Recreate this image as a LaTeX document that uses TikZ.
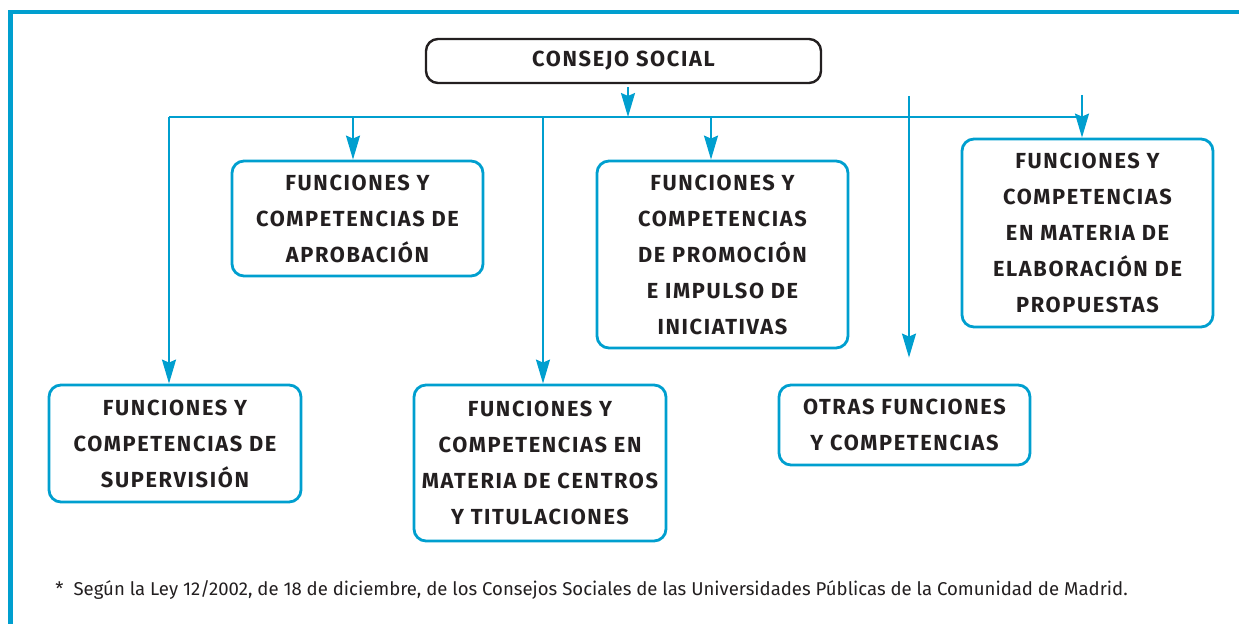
\documentclass[tikz,border=0pt]{standalone}
\usepackage{fontspec}
\setmainfont{Fira Sans}
\newfontfamily\cajafont[LetterSpace=7.5]{Fira Sans}
\usetikzlibrary{arrows.meta,calc}

\definecolor{azul}{RGB}{0,159,207}
\definecolor{tinta}{RGB}{35,31,32}

\tikzset{
    caja/.style={draw=azul, line width=1.4pt, rounded corners=6pt, align=center,
        inner sep=0pt, text=tinta, font=\cajafont\bfseries\fontsize{10.9}{18}\selectfont},
    linea/.style={draw=azul, line width=1pt},
    flecha/.style={linea, -{Stealth[length=12pt,width=7pt,inset=1.5pt]}},
}

\begin{document}
\begin{tikzpicture}[x=0.5pt,y=-0.5pt]
        % Fijamos el tamaño de la figura
        \useasboundingbox (0,0) rectangle (1239,624);
        % Marco azul arriba y a la izquierda
        \draw[azul, line width=2.4pt] (10.5,624) -- (10.5,12) -- (1239,12);
        % Caja del consejo
        \node[caja, draw=tinta, line width=1.2pt, minimum width=197.5pt, minimum height=22pt] (consejo) at (623.5,61) {CONSEJO SOCIAL};
        % Cajas de funciones
        \node[caja, minimum width=125.5pt, minimum height=57.5pt] (aprobacion) at (357.5,218.5) {FUNCIONES Y\\COMPETENCIAS DE\\APROBACIÓN};
        \node[caja, minimum width=125.5pt, minimum height=93.5pt] (promocion) at (722.5,254.5) {FUNCIONES Y\\COMPETENCIAS\\DE PROMOCIÓN\\E IMPULSO DE\\INICIATIVAS};
        \node[caja, minimum width=125.5pt, minimum height=94pt] (elaboracion) at (1087.5,233) {FUNCIONES Y\\COMPETENCIAS\\EN MATERIA DE\\ELABORACIÓN DE\\PROPUESTAS};
        \node[caja, minimum width=126pt, minimum height=58.5pt] (supervision) at (175,443.5) {FUNCIONES Y\\COMPETENCIAS DE\\SUPERVISIÓN};
        \node[caja, minimum width=126pt, minimum height=78pt] (centros) at (540,463) {FUNCIONES Y\\COMPETENCIAS EN\\MATERIA DE CENTROS\\Y TITULACIONES};
        \node[caja, minimum width=125.5pt, minimum height=40pt] (otras) at (904.5,425) {OTRAS FUNCIONES\\Y COMPETENCIAS};
        % Puntos de la línea de reparto
        \coordinate (bus) at (628,117);
        \coordinate (b1) at (169,117);
        \coordinate (b2) at (353,117);
        \coordinate (b3) at (543,117);
        \coordinate (b4) at (711,117);
        \coordinate (b5) at (1082,117);
        \coordinate (o1) at (909,96);
        \coordinate (e1) at (1082,95);
        % Flecha del consejo a la línea
        \draw[flecha] ([yshift=-1.5pt]consejo.south -| bus) -- (bus);
        % Línea de reparto
        \draw[linea] (b1) -- (b5);
        % Flechas hacia las cajas
        \draw[flecha] (b1) -- (b1 |- supervision.north);
        \draw[flecha] (b2) -- (b2 |- aprobacion.north);
        \draw[flecha] (b3) -- (b3 |- centros.north);
        \draw[flecha] (b4) -- (b4 |- promocion.north);
        \draw[flecha] (e1) -- (e1 |- elaboracion.north);
        \draw[flecha] (o1) -- ($(o1 |- otras.north)+(0,-26)$);
        % Nota al pie
        \node[anchor=base west, inner sep=0pt, text=tinta, font=\fontsize{9.28}{11}\selectfont] (nota) at (55,596)
            {*\hspace{5pt}Según la Ley 12/2002, de 18 de diciembre, de los Consejos Sociales de las Universidades Públicas de la Comunidad de Madrid.};
    \end{tikzpicture}
\end{document}
